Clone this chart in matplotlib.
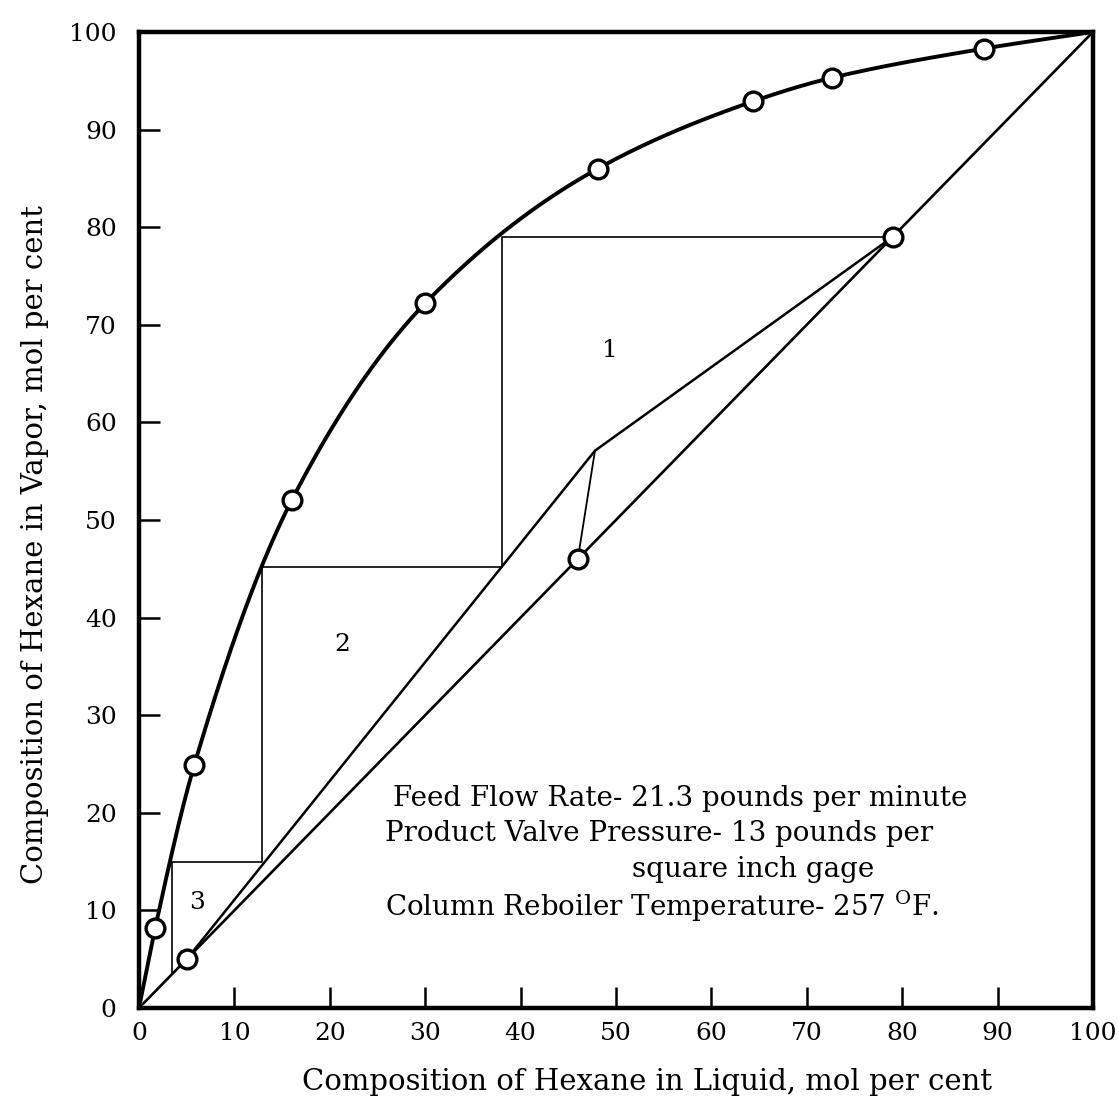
import matplotlib
matplotlib.use("Agg")
import matplotlib.pyplot as plt
import numpy as np

# equilibrium data, mol % hexane (liquid, vapor)
eq_x = [0, 1.7, 5.8, 16.0, 30.0, 48.1, 64.4, 72.6, 88.6, 100]
eq_y = [0, 8.2, 24.9, 52.0, 72.2, 86.0, 92.9, 95.3, 98.3, 100]
eq_marked = [1, 2, 3, 4, 5, 6, 7, 8]  # indices drawn as circles

# bottoms, feed and distillate compositions on the diagonal
diag_pts = [5.0, 46.0, 79.0]

# operating lines, meeting on the q-line
op_x = [5.0, 47.8, 79.0]
op_y = [5.0, 57.1, 79.0]

# stage stepping
step_x = [79.0, 38.1, 38.1, 12.9, 12.9, 3.5, 3.5]
step_y = [79.0, 79.0, 45.2, 45.2, 15.0, 15.0, 3.5]

stage_labels = ["1", "2", "3"]
stage_pos = [(49.4, 67.4), (21.3, 37.2), (6.1, 10.8)]

notes = [
    "Feed Flow Rate- 21.3 pounds per minute",
    "Product Valve Pressure- 13 pounds per",
    "square inch gage",
    "Column Reboiler Temperature- 257 $^{\\mathrm{O}}$F.",
]
notes_x = [26.6, 25.8, 51.7, 25.8]
notes_y = [21.5, 17.9, 14.2, 10.4]

ticks = list(range(0, 101, 10))


def pchip(x, y, xs):
    # monotone cubic through the measured points, for a smooth curve
    x = np.asarray(x, float)
    y = np.asarray(y, float)
    h = np.diff(x)
    d = np.diff(y) / h
    m = np.zeros_like(x)
    for k in range(1, len(x) - 1):
        if d[k - 1] * d[k] > 0:
            w1 = 2 * h[k] + h[k - 1]
            w2 = h[k] + 2 * h[k - 1]
            m[k] = (w1 + w2) / (w1 / d[k - 1] + w2 / d[k])
    m[0] = d[0]
    m[-1] = d[-1]
    idx = np.clip(np.searchsorted(x, xs) - 1, 0, len(h) - 1)
    t = (xs - x[idx]) / h[idx]
    h00 = 2 * t**3 - 3 * t**2 + 1
    h10 = t**3 - 2 * t**2 + t
    h01 = -2 * t**3 + 3 * t**2
    h11 = t**3 - t**2
    return (h00 * y[idx] + h10 * h[idx] * m[idx]
            + h01 * y[idx + 1] + h11 * h[idx] * m[idx + 1])


plt.rcParams["font.family"] = "DejaVu Serif"
plt.rcParams["mathtext.fontset"] = "dejavuserif"

fig = plt.figure(figsize=(11.18, 11.06), dpi=100)
ax = fig.add_axes([0.1243, 0.0886, 0.8533, 0.8825])

xs = np.linspace(0, 100, 600)
ax.plot(xs, pchip(eq_x, eq_y, xs), color="black", lw=2.8, zorder=3)
ax.plot([0, 100], [0, 100], color="black", lw=1.9, zorder=2)

ax.plot(op_x, op_y, color="black", lw=1.8, zorder=2)
ax.plot([diag_pts[1], op_x[1]], [diag_pts[1], op_y[1]], color="black", lw=1.3, zorder=2)
ax.plot(step_x, step_y, color="black", lw=1.2, zorder=2)

ax.plot([eq_x[i] for i in eq_marked], [eq_y[i] for i in eq_marked], "o",
        ms=13.5, mfc="white", mec="black", mew=2.4, zorder=4)
ax.plot(diag_pts, diag_pts, "o",
        ms=13.5, mfc="white", mec="black", mew=2.4, zorder=4)

for s, (px, py) in zip(stage_labels, stage_pos):
    ax.text(px, py, s, fontsize=18, ha="center", va="center")

for s, nx, ny in zip(notes, notes_x, notes_y):
    ax.text(nx, ny, s, fontsize=20, ha="left", va="center")

ax.set_xlim(0, 100)
ax.set_ylim(0, 100)
ax.set_xticks(ticks)
ax.set_yticks(ticks)
ax.tick_params(direction="in", length=15, width=1.8, labelsize=18)
ax.tick_params(axis="x", pad=10)
ax.tick_params(axis="y", pad=16)
for sp in ax.spines.values():
    sp.set_linewidth(3.2)

ax.set_xlabel("Composition of Hexane in Liquid, mol per cent", fontsize=21)
ax.set_ylabel("Composition of Hexane in Vapor, mol per cent", fontsize=21)
ax.xaxis.set_label_coords(0.5325, -0.061)
ax.yaxis.set_label_coords(-0.094, 0.475)

fig.savefig("out.png", dpi=100)
